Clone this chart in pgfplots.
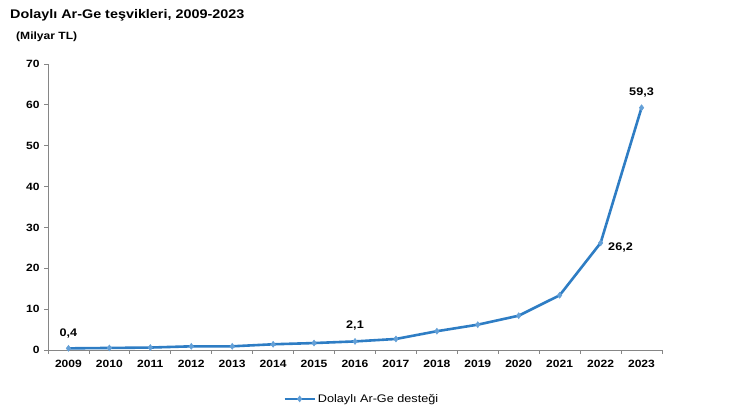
\documentclass[border=0pt]{standalone}
\usepackage{pgfplots}
\pgfplotsset{compat=1.18}
\usepackage{fontspec}
\setmainfont{Liberation Sans}[FakeStretch=1.15]
\definecolor{serieline}{RGB}{46,125,196}
\definecolor{seriemark}{RGB}{100,160,215}
\definecolor{axisgray}{RGB}{134,134,134}
\begin{document}
\begin{tikzpicture}
\useasboundingbox (0pt,0pt) rectangle (752pt,412pt);
\node[anchor=base west,font=\bfseries\fontsize{12.5}{14}\selectfont, inner sep=0pt] at (10pt,393pt) {Dolaylı Ar-Ge teşvikleri, 2009-2023};
\node[anchor=west,font=\bfseries\fontsize{10.5}{12}\selectfont, inner sep=0pt] at (16pt,375pt) {(Milyar TL)};
\begin{axis}[
  at={(48pt,62pt)}, anchor=south west,
  scale only axis, width=614pt, height=286pt,
  xmin=2008.5, xmax=2023.5, ymin=0, ymax=70,
  axis x line*=bottom, axis y line*=left,
  axis line style={axisgray, line width=0.8pt, -},
  xtick={2009,...,2023},
  xticklabels={2009,2010,2011,2012,2013,2014,2015,2016,2017,2018,2019,2020,2021,2022,2023},
  minor xtick={2008.5,2009.5,...,2023.5},
  ytick={0,10,...,70},
  tick align=outside,
  major x tick style={draw=none},
  minor x tick style={axisgray, line width=0.8pt},
  y tick style={axisgray, line width=0.8pt},
  major tick length=4pt, minor tick length=4pt,
  /pgf/number format/assume math mode=true,
  tick label style={font=\bfseries\fontsize{10.5}{12}\selectfont},
  xticklabel style={yshift=-3pt},
  yticklabel style={xshift=-1pt},
  legend style={at={(0.511,-0.171)}, anchor=center, draw=none, fill=none,
    font=\fontsize{11}{12}\selectfont, inner sep=0pt},
  legend image code/.code={
    \draw[#1, mark=none] (0pt,0pt) -- (30pt,0pt);
    \draw[#1, only marks] plot coordinates {(15pt,0pt)};
  },
  legend cell align=left,
  clip=false,
]
\addplot[serieline, line width=2.6pt, mark=diamond*, mark size=3pt,
  mark options={fill=seriemark, draw=seriemark, line width=0.5pt}]
  coordinates {
  (2009,0.4) (2010,0.5) (2011,0.6) (2012,0.9) (2013,0.9) (2014,1.4)
  (2015,1.7) (2016,2.1) (2017,2.7) (2018,4.6) (2019,6.2) (2020,8.4)
  (2021,13.4) (2022,26.2) (2023,59.3)};
\addlegendentry{Dolaylı Ar-Ge desteği}
\node[font=\bfseries\fontsize{11}{12}\selectfont, anchor=south] at (axis cs:2009,2.0) {0,4};
\node[font=\bfseries\fontsize{11}{12}\selectfont, anchor=south] at (axis cs:2016,4.0) {2,1};
\node[font=\bfseries\fontsize{11}{12}\selectfont, anchor=south] at (axis cs:2023,61.0) {59,3};
\node[font=\bfseries\fontsize{11}{12}\selectfont, anchor=west] at (axis cs:2022.1,25.0) {26,2};
\end{axis}
\end{tikzpicture}
\end{document}
